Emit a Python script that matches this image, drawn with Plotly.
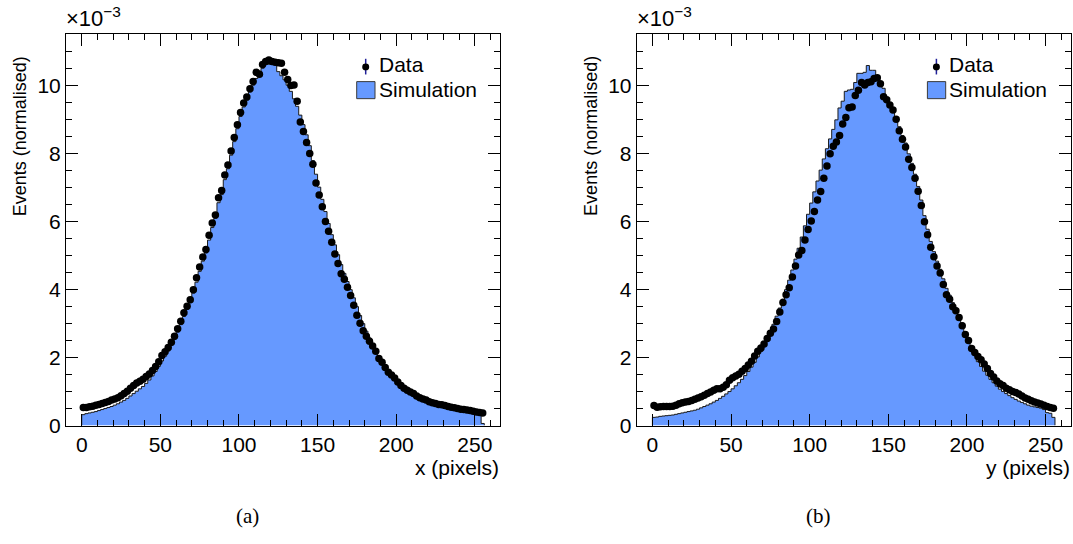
import numpy as np
import plotly.graph_objects as go

# ---------------- data (values in units of 1e-3) ----------------
BIN_WIDTH = 2
N_BINS = 128

DATA_X = [
    0.53, 0.53, 0.55, 0.57, 0.60, 0.62, 0.65, 0.68, 0.71, 0.75,
    0.78, 0.82, 0.88, 0.94, 1.01, 1.10, 1.18, 1.25, 1.30, 1.36,
    1.44, 1.52, 1.62, 1.74, 1.88, 2.06, 2.17, 2.30, 2.45, 2.63,
    2.85, 3.07, 3.32, 3.51, 3.70, 4.00, 4.35, 4.67, 4.96, 5.18,
    5.60, 5.96, 6.20, 6.71, 6.92, 7.38, 7.67, 8.08, 8.48, 8.86,
    9.22, 9.50, 9.67, 9.92, 10.13, 10.40, 10.34, 10.63, 10.72, 10.76,
    10.72, 10.70, 10.68, 10.67, 10.40, 10.19, 10.01, 10.03, 9.55, 8.94,
    8.66, 8.33, 8.01, 7.69, 7.14, 6.79, 6.44, 6.01, 5.72, 5.40,
    5.05, 4.77, 4.47, 4.31, 4.07, 3.83, 3.54, 3.25, 3.01, 2.79,
    2.63, 2.48, 2.34, 2.19, 1.97, 1.86, 1.71, 1.57, 1.49, 1.40,
    1.28, 1.18, 1.10, 1.04, 0.99, 0.94, 0.87, 0.82, 0.78, 0.75,
    0.70, 0.67, 0.65, 0.62, 0.61, 0.59, 0.56, 0.54, 0.52, 0.50,
    0.48, 0.47, 0.46, 0.44, 0.42, 0.40, 0.38, 0.37,
]

SIM_X = [
    0.32, 0.35, 0.37, 0.39, 0.41, 0.44, 0.47, 0.50, 0.53, 0.56,
    0.60, 0.64, 0.69, 0.74, 0.80, 0.87, 0.94, 1.01, 1.08, 1.15,
    1.24, 1.34, 1.46, 1.59, 1.74, 1.90, 2.04, 2.19, 2.36, 2.54,
    2.75, 2.97, 3.21, 3.42, 3.62, 3.90, 4.22, 4.54, 4.84, 5.08,
    5.46, 5.83, 6.10, 6.56, 6.80, 7.24, 7.56, 7.96, 8.36, 8.74,
    9.10, 9.38, 9.58, 9.82, 10.02, 10.22, 10.38, 10.52, 10.63, 10.64,
    10.65, 10.64, 10.42, 10.30, 10.18, 10.02, 9.84, 9.62, 9.40, 9.14,
    8.86, 8.56, 8.24, 7.80, 7.40, 7.02, 6.66, 6.30, 5.95, 5.62,
    5.32, 5.03, 4.74, 4.48, 4.24, 4.00, 3.76, 3.50, 3.24, 3.00,
    2.78, 2.58, 2.40, 2.22, 2.03, 1.88, 1.74, 1.60, 1.48, 1.38,
    1.26, 1.16, 1.07, 1.00, 0.94, 0.88, 0.82, 0.77, 0.72, 0.69,
    0.65, 0.62, 0.59, 0.57, 0.55, 0.53, 0.51, 0.49, 0.47, 0.45,
    0.43, 0.41, 0.40, 0.38, 0.36, 0.35, 0.33, 0.06,
]

DATA_Y = [
    0.59, 0.54, 0.55, 0.56, 0.56, 0.56, 0.57, 0.60, 0.64, 0.67,
    0.69, 0.71, 0.74, 0.77, 0.81, 0.85, 0.89, 0.94, 0.99, 1.04,
    1.08, 1.08, 1.13, 1.20, 1.33, 1.41, 1.46, 1.51, 1.60, 1.68,
    1.78, 1.89, 2.05, 2.19, 2.28, 2.40, 2.56, 2.72, 2.84, 3.06,
    3.34, 3.62, 3.85, 4.06, 4.37, 4.70, 5.02, 5.15, 5.46, 5.77,
    6.02, 6.30, 6.64, 6.89, 7.28, 7.64, 8.00, 8.22, 8.35, 8.54,
    8.88, 9.07, 9.36, 9.38, 9.72, 9.87, 10.10, 10.03, 10.10, 10.12,
    10.22, 10.24, 10.06, 9.68, 9.59, 9.44, 9.29, 9.02, 8.68, 8.43,
    8.20, 7.84, 7.60, 7.28, 6.90, 6.48, 6.00, 5.62, 5.25, 4.97,
    4.70, 4.49, 4.15, 3.85, 3.72, 3.50, 3.38, 3.18, 2.94, 2.68,
    2.50, 2.27, 2.15, 2.03, 1.94, 1.81, 1.68, 1.53, 1.43, 1.31,
    1.23, 1.18, 1.10, 1.05, 1.00, 0.97, 0.93, 0.87, 0.81, 0.77,
    0.73, 0.69, 0.66, 0.63, 0.60, 0.56, 0.53, 0.51,
]

SIM_Y = [
    0.24, 0.25, 0.27, 0.28, 0.29, 0.30, 0.31, 0.33, 0.35, 0.37,
    0.39, 0.41, 0.43, 0.45, 0.48, 0.52, 0.56, 0.60, 0.64, 0.69,
    0.74, 0.80, 0.86, 0.93, 1.00, 1.08, 1.17, 1.26, 1.36, 1.47,
    1.59, 1.72, 1.86, 2.02, 2.18, 2.36, 2.56, 2.76, 2.98, 3.22,
    3.46, 3.72, 4.00, 4.28, 4.58, 4.90, 5.22, 5.55, 5.88, 6.22,
    6.55, 6.88, 7.20, 7.52, 7.85, 8.15, 8.44, 8.72, 9.00, 9.35,
    9.55, 9.84, 9.88, 9.90, 10.10, 10.37, 10.37, 10.40, 10.60, 10.46,
    10.46, 10.27, 10.12, 9.93, 9.64, 9.45, 9.30, 9.08, 8.80, 8.54,
    8.32, 8.00, 7.72, 7.40, 7.04, 6.64, 6.18, 5.78, 5.42, 5.12,
    4.84, 4.60, 4.32, 4.04, 3.84, 3.62, 3.46, 3.26, 3.02, 2.70,
    2.48, 2.24, 2.06, 1.88, 1.74, 1.60, 1.48, 1.36, 1.26, 1.16,
    1.07, 1.00, 0.94, 0.88, 0.82, 0.77, 0.72, 0.68, 0.64, 0.60,
    0.57, 0.55, 0.53, 0.51, 0.47, 0.38, 0.36, 0.24,
]

X_TITLES = ["x (pixels)", "y (pixels)"]
Y_TITLE = "Events (normalised)"
CAPTIONS = ["(a)", "(b)"]
LEGEND_LABELS = ["Data", "Simulation"]

for arr in (DATA_X, SIM_X, DATA_Y, SIM_Y):
    assert len(arr) == N_BINS

# ---------------- styling ----------------
W, H = 1073, 544
FILL = "#6699ff"
HIST_LINE = "#1a1a1a"
FONT = "Liberation Sans"

edges = np.arange(0, BIN_WIDTH * N_BINS + 1, BIN_WIDTH)
centers = edges[:-1] + BIN_WIDTH / 2


def px(x):
    return x / W


def py(y):
    return 1 - y / H


panels = [
    dict(data=DATA_X, sim=SIM_X, left=66.0, xa="x", ya="y"),
    dict(data=DATA_Y, sim=SIM_Y, left=636.7, xa="x2", ya="y2"),
]
PW = 434.0
TOP, BOTTOM = 35.0, 434.3

fig = go.Figure()
shapes = []
annotations = []

for i, p in enumerate(panels):
    sim = list(p["sim"])
    hx = [edges[0]] + list(edges[:-1]) + [edges[-1], edges[-1]]
    hy = [0] + sim + [sim[-1], 0]
    fig.add_trace(go.Scatter(
        x=hx, y=hy, mode="lines", line=dict(shape="hv", color=HIST_LINE, width=1),
        fill="tozeroy", fillcolor=FILL, xaxis=p["xa"], yaxis=p["ya"],
        showlegend=False, hoverinfo="skip"))
    fig.add_trace(go.Scatter(
        x=centers, y=p["data"], mode="markers",
        marker=dict(color="black", size=7.5, symbol="circle"),
        xaxis=p["xa"], yaxis=p["ya"], showlegend=False))

    L = p["left"]
    axis_common = dict(
        showline=True, linecolor="black", linewidth=1, mirror="ticks",
        ticks="inside", tickcolor="black", tickwidth=1, ticklen=12,
        showgrid=False, zeroline=False,
        tickfont=dict(family=FONT, size=21, color="black"),
    )
    xname = "xaxis" if i == 0 else "xaxis2"
    yname = "yaxis" if i == 0 else "yaxis2"
    fig.update_layout(**{
        xname: dict(domain=[px(L), px(L + PW)], range=[-10, 266], anchor=p["ya"],
                    tick0=0, dtick=50,
                    minor=dict(ticks="inside", ticklen=6, tick0=0, dtick=10,
                               tickcolor="black", tickwidth=1, showgrid=False),
                    **axis_common),
        yname: dict(domain=[py(BOTTOM), py(TOP)], range=[0, 11.52], anchor=p["xa"],
                    tick0=0, dtick=2,
                    minor=dict(ticks="inside", ticklen=6, tick0=0, dtick=0.5,
                               tickcolor="black", tickwidth=1, showgrid=False),
                    **axis_common),
    })

    # exponent label
    annotations.append(dict(
        text="×10<sup>−3</sup>", xref="paper", yref="paper",
        x=px(L - 2), y=py(TOP - 1), xanchor="left", yanchor="bottom",
        showarrow=False, font=dict(family=FONT, size=22, color="black")))
    # y title
    annotations.append(dict(
        text=Y_TITLE, xref="paper", yref="paper", textangle=-90,
        x=px(L - 46), y=py(139), xanchor="center", yanchor="middle",
        showarrow=False, font=dict(family=FONT, size=18, color="black")))
    # x title
    annotations.append(dict(
        text=X_TITLES[i], xref="paper", yref="paper",
        x=px(L + PW + 1), y=py(477), xanchor="right", yanchor="middle",
        showarrow=False, font=dict(family=FONT, size=21, color="black")))
    # caption
    annotations.append(dict(
        text=CAPTIONS[i], xref="paper", yref="paper",
        x=px(L + 181 if i == 0 else L + 181.3), y=py(527), xanchor="center", yanchor="middle",
        showarrow=False, font=dict(family="Liberation Serif", size=21, color="black")))

    # legend (drawn by hand, ROOT style)
    lx = L + 299.7  # marker centre
    shapes.append(dict(type="line", xref="paper", yref="paper",
                       x0=px(lx), x1=px(lx), y0=py(60), y1=py(76),
                       line=dict(color="#22229a", width=1.5)))
    shapes.append(dict(type="circle", xref="paper", yref="paper",
                       x0=px(lx - 3.5), x1=px(lx + 3.5), y0=py(68.3 + 3.5), y1=py(68.3 - 3.5),
                       fillcolor="black", line=dict(color="black", width=0)))
    shapes.append(dict(type="rect", xref="paper", yref="paper",
                       x0=px(L + 290.7), x1=px(L + 309), y0=py(100.7), y1=py(83.3),
                       fillcolor=FILL, line=dict(color="#3a3a3a", width=1)))
    annotations.append(dict(
        text=LEGEND_LABELS[0], xref="paper", yref="paper",
        x=px(L + 310.5), y=py(66), xanchor="left", yanchor="middle",
        showarrow=False, font=dict(family=FONT, size=21, color="black")))
    annotations.append(dict(
        text=LEGEND_LABELS[1], xref="paper", yref="paper",
        x=px(L + 310.5), y=py(91), xanchor="left", yanchor="middle",
        showarrow=False, font=dict(family=FONT, size=21, color="black")))

fig.update_layout(
    width=W, height=H, margin=dict(l=0, r=0, t=0, b=0),
    paper_bgcolor="white", plot_bgcolor="white",
    shapes=shapes, annotations=annotations, showlegend=False,
)

fig.write_html("out.html")
